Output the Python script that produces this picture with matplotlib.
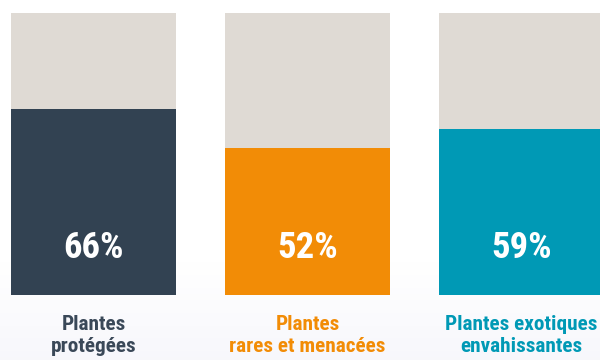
import matplotlib
matplotlib.use("Agg")
import matplotlib.pyplot as plt
import numpy as np

categories = ["Plantes\nprotégées", "Plantes\nrares et menacées", "Plantes exotiques\nenvahissantes"]
values = [66, 52, 59]
pct_labels = ["66%", "52%", "59%"]
bar_colors = ["#324252", "#f28c06", "#0099b5"]
label_colors = ["#3a4858", "#f28c06", "#0099b5"]
track_color = "#dfdad4"

fig = plt.figure(figsize=(6, 3.6), dpi=100)
fig.patch.set_facecolor("white")

# faint background tint at the bottom
bg = fig.add_axes([0, 0, 1, 1], zorder=0)
bg.axis("off")
h = np.linspace(0, 1, 200)[:, None]  # 0 = bottom, 1 = top
t = np.clip((0.27 - h) / 0.27, 0, 1)
img = np.dstack([1 - t * 0.03, 1 - t * 0.03, 1 - t * 0.012])
bg.imshow(img, aspect="auto", extent=[0, 1, 0, 1], origin="lower")
bg.set_xlim(0, 1)
bg.set_ylim(0, 1)

ax = fig.add_axes([0, 0, 1, 1], zorder=1)
ax.patch.set_alpha(0)
ax.set_xlim(-0.437, 2.367)
ax.set_ylim(-23.05, 104.61)
ax.axis("off")

x = np.arange(len(values))
w = 0.771
ax.bar(x, [100] * len(values), width=w, color=track_color, zorder=1)
ax.bar(x, values, width=w, color=bar_colors, zorder=2)

font = ["Roboto Condensed", "Roboto", "DejaVu Sans"]
for xi, p in zip(x, pct_labels):
    ax.text(xi, 16.7, p, ha="center", va="center", color="white",
            fontsize=26.5, fontweight="semibold", family=font, zorder=3)

for xi, lab, c in zip(x, categories, label_colors):
    ax.text(xi, -14.4, lab, ha="center", va="center", color=c,
            fontsize=15.3, fontweight="semibold", family=font,
            linespacing=1.22, zorder=3)

fig.savefig("out.png", dpi=100)
